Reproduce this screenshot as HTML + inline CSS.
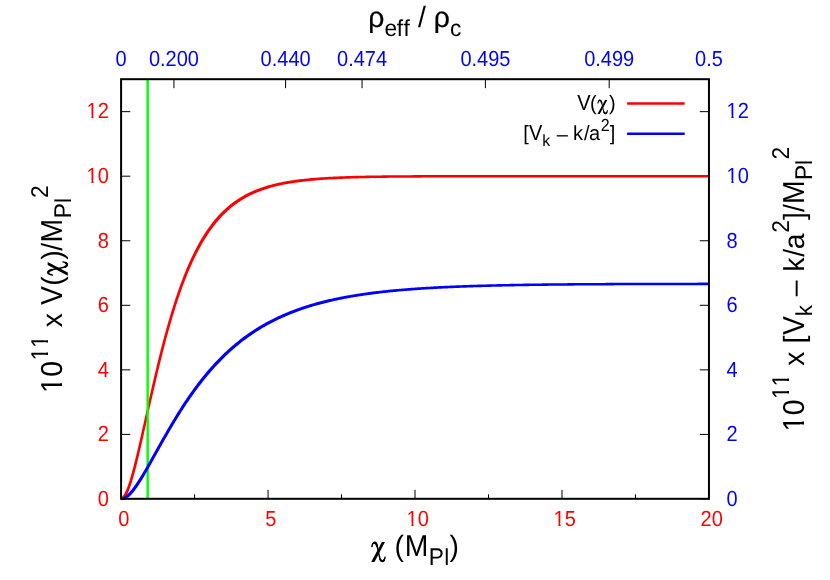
<!DOCTYPE html>
<html><head><meta charset="utf-8"><title>plot</title>
<style>html,body{margin:0;padding:0;background:#fff;overflow:hidden}svg{display:block;will-change:transform}text{font-family:"Liberation Sans",sans-serif;font-kerning:none;white-space:pre;text-rendering:geometricPrecision}.rho{stroke:#000;stroke-width:.22}.cs{fill:none;stroke:#000;stroke-width:1.5;stroke-linecap:round}.cb{stroke-width:2.2}.tick{stroke:#000;stroke-width:1;fill:none}.frame{stroke:#000;stroke-width:2;fill:none}.curve{fill:none;stroke-width:2.5}</style></head>
<body>
<svg width="830" height="580" viewBox="0 0 830 580">
<defs>
<clipPath id="one20"><path d="M-5 -40H40V-2.69H7.00V6H4.83V-2.69H-5Z"/></clipPath>
<clipPath id="one22"><path d="M-5 -40H40V-2.89H7.90V6H5.50V-2.89H-5Z"/></clipPath>
<clipPath id="one28"><path d="M-5 -40H40V-3.32H9.83V6H6.92V-3.32H-5Z"/></clipPath>
<clipPath id="c"><rect x="120.10" y="79.20" width="589.85" height="421.20"/></clipPath>
<g id="chi"><path d="M10.9 .45H13.95L3.5 20.25H.2Z"/><path class="cs" d="M.9 4.9C1.3 2.6 2.2 .9 3.6 .9C5.1 .9 5.9 3 6.5 5.9C7.1 8.9 7.6 11.4 8.3 14.4C9 17.4 9.8 19.7 11.3 19.7C12.7 19.7 13.6 18 14.1 15.5"/><path class="cs cb" d="M2.9 1.2C3.1 1.05 3.35 1 3.6 1C4.9 1 5.6 2.5 6.1 4.4M9.2 17.7C9.8 19 10.4 19.55 11.3 19.55C12 19.55 12.5 19.2 13 18.4"/></g>
</defs>
<rect width="830" height="580" fill="#fff"/>
<path class="tick" d="M121.10 498.80 v-9 M268.06 498.80 v-9 M415.02 498.80 v-9 M561.99 498.80 v-9 M708.95 498.80 v-9 M194.58 498.80 v-4.5 M341.54 498.80 v-4.5 M488.51 498.80 v-4.5 M635.47 498.80 v-4.5 M121.10 79.20 v9 M173.95 79.20 v9 M285.60 79.20 v9 M362.05 79.20 v9 M485.40 79.20 v9 M609.20 79.20 v9 M708.95 79.20 v9 M121.10 498.95 h9.2 M708.95 498.95 h-9.2 M121.10 434.40 h9.2 M708.95 434.40 h-9.2 M121.10 369.85 h9.2 M708.95 369.85 h-9.2 M121.10 305.30 h9.2 M708.95 305.30 h-9.2 M121.10 240.75 h9.2 M708.95 240.75 h-9.2 M121.10 176.20 h9.2 M708.95 176.20 h-9.2 M121.10 111.65 h9.2 M708.95 111.65 h-9.2"/>
<g clip-path="url(#c)" class="curve">
<path d="M120.76 497.53 L121.43 497.32 L122.00 496.86 L122.80 496.00 L123.72 494.73 L124.69 493.06 L125.67 491.05 L126.65 488.73 L127.63 486.13 L128.62 483.29 L129.60 480.23 L130.58 476.97 L131.57 473.54 L132.55 469.95 L133.53 466.22 L134.51 462.37 L135.49 458.41 L136.47 454.36 L137.45 450.23 L138.43 446.04 L139.41 441.79 L140.39 437.49 L141.37 433.16 L142.35 428.80 L143.33 424.42 L144.31 420.03 L145.29 415.64 L146.27 411.25 L147.25 406.87 L148.23 402.51 L149.21 398.16 L150.19 393.84 L151.17 389.54 L152.15 385.28 L153.13 381.06 L154.11 376.87 L155.09 372.73 L156.07 368.63 L157.05 364.57 L158.03 360.57 L159.00 356.62 L159.98 352.71 L160.96 348.87 L161.94 345.07 L162.92 341.34 L163.90 337.66 L164.88 334.03 L165.86 330.47 L166.84 326.97 L167.81 323.52 L168.79 320.13 L169.77 316.81 L170.75 313.54 L171.73 310.33 L172.71 307.18 L173.69 304.09 L174.67 301.06 L175.64 298.09 L176.62 295.17 L177.60 292.32 L178.58 289.52 L179.56 286.77 L180.54 284.09 L181.52 281.45 L182.49 278.88 L183.47 276.35 L184.45 273.88 L185.43 271.47 L186.41 269.10 L187.39 266.79 L188.37 264.53 L189.35 262.31 L190.33 260.15 L191.31 258.03 L192.29 255.96 L193.27 253.94 L194.25 251.96 L195.23 250.03 L196.21 248.14 L197.19 246.29 L198.17 244.49 L199.15 242.73 L200.14 241.01 L201.12 239.33 L202.10 237.69 L203.09 236.09 L204.07 234.52 L205.05 233.00 L206.04 231.51 L207.02 230.05 L208.01 228.63 L209.00 227.24 L209.98 225.89 L210.97 224.57 L211.96 223.28 L212.95 222.02 L213.94 220.80 L214.93 219.60 L215.92 218.44 L216.91 217.30 L217.90 216.19 L218.89 215.11 L219.89 214.05 L220.88 213.03 L221.87 212.02 L222.87 211.05 L223.86 210.09 L224.86 209.17 L225.85 208.26 L226.85 207.38 L227.84 206.52 L228.84 205.68 L229.83 204.87 L230.83 204.07 L231.83 203.30 L232.82 202.54 L233.82 201.80 L234.82 201.09 L235.81 200.39 L236.81 199.71 L237.81 199.05 L238.80 198.40 L239.80 197.77 L240.79 197.16 L241.79 196.57 L242.79 195.99 L243.78 195.42 L244.78 194.87 L245.78 194.34 L246.77 193.82 L247.77 193.31 L248.76 192.81 L249.76 192.33 L250.75 191.86 L251.75 191.41 L252.74 190.97 L253.74 190.53 L254.73 190.11 L255.73 189.70 L256.72 189.31 L257.72 188.92 L258.71 188.54 L259.70 188.17 L260.70 187.82 L261.69 187.47 L262.68 187.13 L263.67 186.80 L264.66 186.48 L265.66 186.17 L266.65 185.87 L267.64 185.57 L268.63 185.28 L269.62 185.00 L270.61 184.73 L271.60 184.47 L272.59 184.21 L273.58 183.96 L274.57 183.71 L275.56 183.48 L276.55 183.24 L277.54 183.02 L278.53 182.80 L279.51 182.59 L280.50 182.38 L281.49 182.18 L282.48 181.98 L283.47 181.79 L284.45 181.61 L285.44 181.43 L286.43 181.25 L287.41 181.08 L288.40 180.91 L289.39 180.75 L290.37 180.59 L291.36 180.44 L292.34 180.29 L293.33 180.15 L294.32 180.01 L295.30 179.87 L296.29 179.73 L297.27 179.60 L298.26 179.48 L299.24 179.35 L300.22 179.23 L301.21 179.12 L302.19 179.00 L303.18 178.89 L304.16 178.79 L305.15 178.68 L306.13 178.58 L307.11 178.48 L308.10 178.39 L309.08 178.29 L310.06 178.20 L311.05 178.11 L312.03 178.03 L313.01 177.94 L314.00 177.86 L314.98 177.78 L315.96 177.70 L316.95 177.63 L317.93 177.56 L318.91 177.49 L319.89 177.42 L320.88 177.35 L321.86 177.28 L322.84 177.22 L323.82 177.16 L324.80 177.10 L325.79 177.04 L326.77 176.98 L327.75 176.93 L328.73 176.87 L329.71 176.82 L330.70 176.77 L331.68 176.72 L332.66 176.67 L333.64 176.62 L334.62 176.58 L335.60 176.53 L336.59 176.49 L337.57 176.45 L338.55 176.41 L339.53 176.37 L340.51 176.33 L341.49 176.29 L342.47 176.25 L343.45 176.22 L344.44 176.18 L345.42 176.15 L346.40 176.12 L347.38 176.08 L348.36 176.05 L349.34 176.02 L350.32 175.99 L351.30 175.96 L352.28 175.94 L353.26 175.91 L354.24 175.88 L355.23 175.86 L356.21 175.83 L357.19 175.81 L358.17 175.78 L359.15 175.76 L360.13 175.74 L361.11 175.72 L362.09 175.70 L363.07 175.68 L364.05 175.66 L365.03 175.64 L366.01 175.62 L366.99 175.60 L367.97 175.58 L368.95 175.56 L369.93 175.55 L370.91 175.53 L371.89 175.51 L372.87 175.50 L373.85 175.48 L374.84 175.47 L375.82 175.45 L376.80 175.44 L377.78 175.43 L378.76 175.41 L379.74 175.40 L380.72 175.39 L381.70 175.38 L382.68 175.36 L383.66 175.35 L384.64 175.34 L385.62 175.33 L386.60 175.32 L387.58 175.31 L388.56 175.30 L389.54 175.29 L390.52 175.28 L391.50 175.27 L392.48 175.26 L393.46 175.25 L394.44 175.24 L395.42 175.24 L396.40 175.23 L397.38 175.22 L398.36 175.21 L399.34 175.21 L400.32 175.20 L401.30 175.19 L402.28 175.18 L403.26 175.18 L404.24 175.17 L405.22 175.17 L406.20 175.16 L407.18 175.15 L408.16 175.15 L409.14 175.14 L410.12 175.14 L411.10 175.13 L412.08 175.13 L413.06 175.12 L414.04 175.12 L415.02 175.11 L416.00 175.11 L416.98 175.10 L417.96 175.10 L418.94 175.09 L419.92 175.09 L420.90 175.09 L421.88 175.08 L422.86 175.08 L423.84 175.07 L424.82 175.07 L425.80 175.07 L426.78 175.06 L427.76 175.06 L428.74 175.06 L429.72 175.06 L430.70 175.05 L431.68 175.05 L432.66 175.05 L433.64 175.04 L434.62 175.04 L435.60 175.04 L436.58 175.04 L437.56 175.03 L438.54 175.03 L439.52 175.03 L440.50 175.03 L441.48 175.02 L442.45 175.02 L443.43 175.02 L444.41 175.02 L445.39 175.02 L446.37 175.01 L447.35 175.01 L448.33 175.01 L449.31 175.01 L450.29 175.01 L451.27 175.01 L452.25 175.00 L453.23 175.00 L454.21 175.00 L455.19 175.00 L456.17 175.00 L457.15 175.00 L458.13 174.99 L459.11 174.99 L460.09 174.99 L461.07 174.99 L462.05 174.99 L463.03 174.99 L464.01 174.99 L464.99 174.99 L465.97 174.99 L466.95 174.98 L467.93 174.98 L468.91 174.98 L469.89 174.98 L470.87 174.98 L471.85 174.98 L472.83 174.98 L473.81 174.98 L474.79 174.98 L475.77 174.98 L476.75 174.98 L477.73 174.97 L478.71 174.97 L479.69 174.97 L480.67 174.97 L481.65 174.97 L482.63 174.97 L483.61 174.97 L484.59 174.97 L485.57 174.97 L486.55 174.97 L487.53 174.97 L488.51 174.97 L489.49 174.97 L490.46 174.97 L491.44 174.97 L492.42 174.97 L493.40 174.96 L494.38 174.96 L495.36 174.96 L496.34 174.96 L497.32 174.96 L498.30 174.96 L499.28 174.96 L500.26 174.96 L501.24 174.96 L502.22 174.96 L503.20 174.96 L504.18 174.96 L505.16 174.96 L506.14 174.96 L507.12 174.96 L508.10 174.96 L509.08 174.96 L510.06 174.96 L511.04 174.96 L512.02 174.96 L513.00 174.96 L513.98 174.96 L514.96 174.96 L515.94 174.96 L516.92 174.96 L517.90 174.96 L518.88 174.96 L519.86 174.96 L520.84 174.96 L521.82 174.96 L522.80 174.96 L523.78 174.96 L524.76 174.96 L525.74 174.96 L526.72 174.95 L527.70 174.95 L528.68 174.95 L529.66 174.95 L530.64 174.95 L531.61 174.95 L532.59 174.95 L533.57 174.95 L534.55 174.95 L535.53 174.95 L536.51 174.95 L537.49 174.95 L538.47 174.95 L539.45 174.95 L540.43 174.95 L541.41 174.95 L542.39 174.95 L543.37 174.95 L544.35 174.95 L545.33 174.95 L546.31 174.95 L547.29 174.95 L548.27 174.95 L549.25 174.95 L550.23 174.95 L551.21 174.95 L552.19 174.95 L553.17 174.95 L554.15 174.95 L555.13 174.95 L556.11 174.95 L557.09 174.95 L558.07 174.95 L559.05 174.95 L560.03 174.95 L561.01 174.95 L561.99 174.95 L562.97 174.95 L563.95 174.95 L564.93 174.95 L565.91 174.95 L566.89 174.95 L567.87 174.95 L568.85 174.95 L569.83 174.95 L570.81 174.95 L571.78 174.95 L572.76 174.95 L573.74 174.95 L574.72 174.95 L575.70 174.95 L576.68 174.95 L577.66 174.95 L578.64 174.95 L579.62 174.95 L580.60 174.95 L581.58 174.95 L582.56 174.95 L583.54 174.95 L584.52 174.95 L585.50 174.95 L586.48 174.95 L587.46 174.95 L588.44 174.95 L589.42 174.95 L590.40 174.95 L591.38 174.95 L592.36 174.95 L593.34 174.95 L594.32 174.95 L595.30 174.95 L596.28 174.95 L597.26 174.95 L598.24 174.95 L599.22 174.95 L600.20 174.95 L601.18 174.95 L602.16 174.95 L603.14 174.95 L604.12 174.95 L605.10 174.95 L606.08 174.95 L607.06 174.95 L608.04 174.95 L609.02 174.95 L610.00 174.95 L610.97 174.95 L611.95 174.95 L612.93 174.95 L613.91 174.95 L614.89 174.95 L615.87 174.95 L616.85 174.95 L617.83 174.95 L618.81 174.95 L619.79 174.95 L620.77 174.95 L621.75 174.95 L622.73 174.95 L623.71 174.95 L624.69 174.95 L625.67 174.95 L626.65 174.95 L627.63 174.95 L628.61 174.95 L629.59 174.95 L630.57 174.95 L631.55 174.95 L632.53 174.95 L633.51 174.95 L634.49 174.95 L635.47 174.95 L636.45 174.95 L637.43 174.95 L638.41 174.95 L639.39 174.95 L640.37 174.95 L641.35 174.95 L642.33 174.95 L643.31 174.95 L644.29 174.95 L645.27 174.95 L646.25 174.95 L647.23 174.95 L648.21 174.95 L649.19 174.95 L650.16 174.95 L651.14 174.95 L652.12 174.95 L653.10 174.95 L654.08 174.95 L655.06 174.95 L656.04 174.95 L657.02 174.95 L658.00 174.95 L658.98 174.95 L659.96 174.95 L660.94 174.95 L661.92 174.95 L662.90 174.95 L663.88 174.95 L664.86 174.95 L665.84 174.95 L666.82 174.95 L667.80 174.95 L668.78 174.95 L669.76 174.95 L670.74 174.95 L671.72 174.95 L672.70 174.95 L673.68 174.95 L674.66 174.95 L675.64 174.95 L676.62 174.95 L677.60 174.95 L678.58 174.95 L679.56 174.95 L680.54 174.95 L681.52 174.95 L682.50 174.95 L683.48 174.95 L684.46 174.95 L685.44 174.95 L686.42 174.95 L687.40 174.95 L688.38 174.95 L689.35 174.95 L690.33 174.95 L691.31 174.95 L692.29 174.95 L693.27 174.95 L694.25 174.95 L695.23 174.95 L696.21 174.95 L697.19 174.95 L698.17 174.95 L699.15 174.95 L700.13 174.95 L701.11 174.95 L702.09 174.95 L703.07 174.95 L704.05 174.95 L705.03 174.95 L706.01 174.95 L706.99 174.95 L707.97 174.95 L708.95 174.95 L708.95 177.45 L707.97 177.45 L706.99 177.45 L706.01 177.45 L705.03 177.45 L704.05 177.45 L703.07 177.45 L702.09 177.45 L701.11 177.45 L700.13 177.45 L699.15 177.45 L698.17 177.45 L697.19 177.45 L696.21 177.45 L695.23 177.45 L694.25 177.45 L693.27 177.45 L692.29 177.45 L691.31 177.45 L690.33 177.45 L689.36 177.45 L688.38 177.45 L687.40 177.45 L686.42 177.45 L685.44 177.45 L684.46 177.45 L683.48 177.45 L682.50 177.45 L681.52 177.45 L680.54 177.45 L679.56 177.45 L678.58 177.45 L677.60 177.45 L676.62 177.45 L675.64 177.45 L674.66 177.45 L673.68 177.45 L672.70 177.45 L671.72 177.45 L670.74 177.45 L669.76 177.45 L668.78 177.45 L667.80 177.45 L666.82 177.45 L665.84 177.45 L664.86 177.45 L663.88 177.45 L662.90 177.45 L661.92 177.45 L660.94 177.45 L659.96 177.45 L658.98 177.45 L658.00 177.45 L657.02 177.45 L656.04 177.45 L655.06 177.45 L654.08 177.45 L653.10 177.45 L652.12 177.45 L651.14 177.45 L650.17 177.45 L649.19 177.45 L648.21 177.45 L647.23 177.45 L646.25 177.45 L645.27 177.45 L644.29 177.45 L643.31 177.45 L642.33 177.45 L641.35 177.45 L640.37 177.45 L639.39 177.45 L638.41 177.45 L637.43 177.45 L636.45 177.45 L635.47 177.45 L634.49 177.45 L633.51 177.45 L632.53 177.45 L631.55 177.45 L630.57 177.45 L629.59 177.45 L628.61 177.45 L627.63 177.45 L626.65 177.45 L625.67 177.45 L624.69 177.45 L623.71 177.45 L622.73 177.45 L621.75 177.45 L620.77 177.45 L619.79 177.45 L618.81 177.45 L617.83 177.45 L616.85 177.45 L615.87 177.45 L614.89 177.45 L613.91 177.45 L612.93 177.45 L611.95 177.45 L610.98 177.45 L610.00 177.45 L609.02 177.45 L608.04 177.45 L607.06 177.45 L606.08 177.45 L605.10 177.45 L604.12 177.45 L603.14 177.45 L602.16 177.45 L601.18 177.45 L600.20 177.45 L599.22 177.45 L598.24 177.45 L597.26 177.45 L596.28 177.45 L595.30 177.45 L594.32 177.45 L593.34 177.45 L592.36 177.45 L591.38 177.45 L590.40 177.45 L589.42 177.45 L588.44 177.45 L587.46 177.45 L586.48 177.45 L585.50 177.45 L584.52 177.45 L583.54 177.45 L582.56 177.45 L581.58 177.45 L580.60 177.45 L579.62 177.45 L578.64 177.45 L577.66 177.45 L576.68 177.45 L575.70 177.45 L574.72 177.45 L573.74 177.45 L572.76 177.45 L571.79 177.45 L570.81 177.45 L569.83 177.45 L568.85 177.45 L567.87 177.45 L566.89 177.45 L565.91 177.45 L564.93 177.45 L563.95 177.45 L562.97 177.45 L561.99 177.45 L561.01 177.46 L560.03 177.46 L559.05 177.46 L558.07 177.46 L557.09 177.46 L556.11 177.46 L555.13 177.46 L554.15 177.46 L553.17 177.46 L552.19 177.46 L551.21 177.46 L550.23 177.46 L549.25 177.46 L548.27 177.46 L547.29 177.46 L546.31 177.46 L545.33 177.46 L544.35 177.46 L543.37 177.46 L542.39 177.46 L541.41 177.46 L540.43 177.46 L539.45 177.46 L538.47 177.46 L537.49 177.46 L536.51 177.46 L535.53 177.46 L534.55 177.46 L533.57 177.46 L532.60 177.46 L531.62 177.46 L530.64 177.46 L529.66 177.46 L528.68 177.46 L527.70 177.46 L526.72 177.46 L525.74 177.46 L524.76 177.46 L523.78 177.46 L522.80 177.46 L521.82 177.46 L520.84 177.46 L519.86 177.46 L518.88 177.46 L517.90 177.46 L516.92 177.46 L515.94 177.47 L514.96 177.47 L513.98 177.47 L513.00 177.47 L512.02 177.47 L511.04 177.47 L510.06 177.47 L509.08 177.47 L508.10 177.47 L507.12 177.47 L506.14 177.47 L505.16 177.47 L504.18 177.47 L503.20 177.47 L502.22 177.47 L501.24 177.47 L500.26 177.47 L499.28 177.47 L498.30 177.47 L497.32 177.47 L496.34 177.47 L495.37 177.48 L494.39 177.48 L493.41 177.48 L492.43 177.48 L491.45 177.48 L490.47 177.48 L489.49 177.48 L488.51 177.48 L487.53 177.48 L486.55 177.48 L485.57 177.48 L484.59 177.48 L483.61 177.48 L482.63 177.49 L481.65 177.49 L480.67 177.49 L479.69 177.49 L478.71 177.49 L477.73 177.49 L476.75 177.49 L475.77 177.49 L474.79 177.49 L473.81 177.49 L472.83 177.50 L471.85 177.50 L470.87 177.50 L469.89 177.50 L468.91 177.50 L467.93 177.50 L466.95 177.50 L465.97 177.50 L464.99 177.51 L464.01 177.51 L463.03 177.51 L462.05 177.51 L461.08 177.51 L460.10 177.51 L459.12 177.51 L458.14 177.52 L457.16 177.52 L456.18 177.52 L455.20 177.52 L454.22 177.52 L453.24 177.52 L452.26 177.53 L451.28 177.53 L450.30 177.53 L449.32 177.53 L448.34 177.54 L447.36 177.54 L446.38 177.54 L445.40 177.54 L444.42 177.54 L443.44 177.55 L442.46 177.55 L441.48 177.55 L440.50 177.55 L439.52 177.56 L438.54 177.56 L437.56 177.56 L436.58 177.57 L435.60 177.57 L434.62 177.57 L433.64 177.58 L432.66 177.58 L431.68 177.58 L430.71 177.59 L429.73 177.59 L428.75 177.59 L427.77 177.60 L426.79 177.60 L425.81 177.60 L424.83 177.61 L423.85 177.61 L422.87 177.62 L421.89 177.62 L420.91 177.63 L419.93 177.63 L418.95 177.63 L417.97 177.64 L416.99 177.64 L416.01 177.65 L415.03 177.66 L414.05 177.66 L413.07 177.67 L412.09 177.67 L411.11 177.68 L410.13 177.68 L409.15 177.69 L408.17 177.70 L407.20 177.70 L406.22 177.71 L405.24 177.72 L404.26 177.72 L403.28 177.73 L402.30 177.74 L401.32 177.75 L400.34 177.75 L399.36 177.76 L398.38 177.77 L397.40 177.78 L396.42 177.79 L395.44 177.80 L394.46 177.81 L393.48 177.82 L392.50 177.82 L391.52 177.83 L390.54 177.85 L389.56 177.86 L388.59 177.87 L387.61 177.88 L386.63 177.89 L385.65 177.90 L384.67 177.91 L383.69 177.93 L382.71 177.94 L381.73 177.95 L380.75 177.96 L379.77 177.98 L378.79 177.99 L377.81 178.01 L376.83 178.02 L375.85 178.04 L374.88 178.05 L373.90 178.07 L372.92 178.09 L371.94 178.10 L370.96 178.12 L369.98 178.14 L369.00 178.16 L368.02 178.17 L367.04 178.19 L366.06 178.21 L365.08 178.23 L364.11 178.26 L363.13 178.28 L362.15 178.30 L361.17 178.32 L360.19 178.35 L359.21 178.37 L358.23 178.40 L357.25 178.42 L356.27 178.45 L355.30 178.47 L354.32 178.50 L353.34 178.53 L352.36 178.56 L351.38 178.59 L350.40 178.62 L349.42 178.65 L348.44 178.68 L347.47 178.72 L346.49 178.75 L345.51 178.79 L344.53 178.82 L343.55 178.86 L342.57 178.90 L341.60 178.93 L340.62 178.98 L339.64 179.02 L338.66 179.06 L337.68 179.10 L336.70 179.15 L335.73 179.19 L334.75 179.24 L333.77 179.29 L332.79 179.34 L331.81 179.39 L330.84 179.44 L329.86 179.49 L328.88 179.55 L327.90 179.61 L326.93 179.66 L325.95 179.72 L324.97 179.79 L323.99 179.85 L323.02 179.91 L322.04 179.98 L321.06 180.05 L320.09 180.12 L319.11 180.19 L318.13 180.27 L317.15 180.34 L316.18 180.42 L315.20 180.50 L314.22 180.58 L313.25 180.67 L312.27 180.76 L311.30 180.84 L310.32 180.94 L309.34 181.03 L308.37 181.13 L307.39 181.23 L306.42 181.33 L305.44 181.43 L304.46 181.54 L303.49 181.65 L302.51 181.77 L301.54 181.88 L300.56 182.00 L299.59 182.13 L298.61 182.25 L297.64 182.38 L296.66 182.52 L295.69 182.65 L294.72 182.79 L293.74 182.94 L292.77 183.09 L291.79 183.24 L290.82 183.40 L289.85 183.56 L288.87 183.72 L287.90 183.89 L286.93 184.07 L285.96 184.24 L284.98 184.43 L284.01 184.62 L283.04 184.81 L282.07 185.01 L281.10 185.21 L280.12 185.42 L279.15 185.64 L278.18 185.86 L277.21 186.09 L276.24 186.32 L275.27 186.56 L274.30 186.80 L273.33 187.06 L272.36 187.31 L271.39 187.58 L270.42 187.85 L269.45 188.13 L268.49 188.42 L267.52 188.71 L266.55 189.02 L265.58 189.33 L264.61 189.65 L263.65 189.98 L262.68 190.31 L261.71 190.66 L260.75 191.01 L259.78 191.38 L258.81 191.75 L257.85 192.13 L256.88 192.53 L255.92 192.93 L254.95 193.34 L253.99 193.77 L253.02 194.21 L252.06 194.66 L251.09 195.12 L250.13 195.59 L249.17 196.07 L248.20 196.57 L247.24 197.08 L246.28 197.60 L245.31 198.14 L244.35 198.69 L243.39 199.26 L242.42 199.84 L241.46 200.44 L240.50 201.05 L239.53 201.68 L238.57 202.32 L237.61 202.98 L236.65 203.66 L235.68 204.36 L234.72 205.07 L233.76 205.80 L232.79 206.56 L231.83 207.33 L230.87 208.12 L229.90 208.93 L228.94 209.77 L227.97 210.62 L227.01 211.50 L226.05 212.40 L225.08 213.33 L224.12 214.28 L223.15 215.25 L222.18 216.25 L221.22 217.27 L220.25 218.32 L219.28 219.40 L218.31 220.50 L217.34 221.64 L216.38 222.80 L215.40 223.99 L214.43 225.21 L213.46 226.47 L212.49 227.75 L211.52 229.07 L210.54 230.42 L209.57 231.81 L208.60 233.23 L207.62 234.68 L206.65 236.18 L205.67 237.71 L204.70 239.27 L203.72 240.88 L202.74 242.53 L201.76 244.21 L200.79 245.94 L199.81 247.71 L198.83 249.53 L197.85 251.38 L196.87 253.29 L195.89 255.23 L194.91 257.23 L193.94 259.27 L192.96 261.36 L191.98 263.49 L191.00 265.68 L190.02 267.92 L189.04 270.21 L188.05 272.55 L187.07 274.94 L186.09 277.39 L185.11 279.89 L184.13 282.44 L183.15 285.05 L182.17 287.72 L181.19 290.44 L180.21 293.22 L179.23 296.06 L178.25 298.96 L177.27 301.91 L176.29 304.93 L175.31 308.00 L174.32 311.13 L173.34 314.32 L172.36 317.58 L171.38 320.89 L170.40 324.26 L169.42 327.70 L168.44 331.19 L167.46 334.74 L166.48 338.35 L165.50 342.02 L164.52 345.74 L163.54 349.53 L162.56 353.37 L161.58 357.26 L160.60 361.20 L159.61 365.20 L158.63 369.24 L157.65 373.34 L156.67 377.48 L155.69 381.66 L154.71 385.88 L153.73 390.13 L152.75 394.42 L151.77 398.74 L150.79 403.08 L149.81 407.44 L148.83 411.82 L147.85 416.21 L146.87 420.60 L145.89 424.99 L144.91 429.37 L143.93 433.73 L142.96 438.07 L141.98 442.37 L141.00 446.63 L140.02 450.84 L139.04 454.98 L138.06 459.04 L137.08 463.01 L136.10 466.88 L135.13 470.63 L134.15 474.25 L133.17 477.72 L132.19 481.03 L131.22 484.14 L130.24 487.06 L129.27 489.75 L128.29 492.20 L127.31 494.39 L126.32 496.30 L125.28 497.93 L124.12 499.23 L122.73 500.11 L121.44 500.37Z" fill="#f00" stroke="none"/>
<path d="M147.65 79.20 V498.80" stroke="#0f0" stroke-width="2.4"/>
<path d="M120.99 497.59 L121.86 497.47 L122.63 497.22 L123.43 496.88 L124.26 496.44 L125.12 495.89 L126.01 495.24 L126.92 494.49 L127.84 493.64 L128.77 492.71 L129.72 491.69 L130.67 490.61 L131.63 489.45 L132.59 488.22 L133.56 486.94 L134.53 485.61 L135.50 484.22 L136.47 482.79 L137.45 481.32 L138.43 479.81 L139.40 478.27 L140.38 476.70 L141.36 475.09 L142.33 473.47 L143.31 471.82 L144.29 470.15 L145.27 468.47 L146.25 466.77 L147.23 465.06 L148.21 463.33 L149.19 461.60 L150.17 459.86 L151.15 458.11 L152.13 456.36 L153.10 454.60 L154.08 452.84 L155.06 451.09 L156.04 449.33 L157.02 447.57 L158.00 445.82 L158.98 444.07 L159.96 442.32 L160.94 440.58 L161.92 438.84 L162.90 437.11 L163.88 435.39 L164.86 433.67 L165.84 431.96 L166.83 430.27 L167.81 428.58 L168.79 426.90 L169.77 425.23 L170.75 423.57 L171.73 421.92 L172.71 420.29 L173.69 418.66 L174.67 417.05 L175.65 415.45 L176.63 413.86 L177.61 412.28 L178.59 410.72 L179.58 409.17 L180.56 407.63 L181.54 406.11 L182.52 404.60 L183.50 403.10 L184.48 401.62 L185.46 400.15 L186.45 398.70 L187.43 397.26 L188.41 395.83 L189.39 394.42 L190.37 393.02 L191.36 391.63 L192.34 390.26 L193.32 388.90 L194.31 387.56 L195.29 386.23 L196.27 384.92 L197.25 383.61 L198.24 382.33 L199.22 381.05 L200.20 379.79 L201.19 378.55 L202.17 377.32 L203.16 376.10 L204.14 374.89 L205.12 373.70 L206.11 372.52 L207.09 371.36 L208.08 370.21 L209.06 369.07 L210.05 367.95 L211.03 366.84 L212.02 365.74 L213.00 364.65 L213.99 363.58 L214.98 362.52 L215.96 361.47 L216.95 360.44 L217.93 359.42 L218.92 358.41 L219.91 357.41 L220.89 356.42 L221.88 355.45 L222.87 354.49 L223.85 353.54 L224.84 352.60 L225.83 351.68 L226.82 350.76 L227.80 349.86 L228.79 348.96 L229.78 348.08 L230.76 347.21 L231.75 346.35 L232.74 345.50 L233.73 344.67 L234.72 343.84 L235.70 343.02 L236.69 342.21 L237.68 341.42 L238.67 340.63 L239.65 339.86 L240.64 339.09 L241.63 338.33 L242.62 337.59 L243.61 336.85 L244.59 336.12 L245.58 335.40 L246.57 334.69 L247.56 333.99 L248.55 333.30 L249.53 332.62 L250.52 331.95 L251.51 331.28 L252.50 330.63 L253.49 329.98 L254.48 329.34 L255.46 328.71 L256.45 328.09 L257.44 327.48 L258.43 326.87 L259.42 326.27 L260.40 325.68 L261.39 325.10 L262.38 324.53 L263.37 323.96 L264.36 323.40 L265.35 322.85 L266.33 322.30 L267.32 321.77 L268.31 321.24 L269.30 320.71 L270.29 320.20 L271.27 319.69 L272.26 319.18 L273.25 318.69 L274.24 318.20 L275.22 317.72 L276.21 317.24 L277.20 316.77 L278.19 316.31 L279.17 315.85 L280.16 315.40 L281.15 314.95 L282.14 314.51 L283.12 314.08 L284.11 313.65 L285.10 313.23 L286.09 312.81 L287.07 312.40 L288.06 312.00 L289.05 311.60 L290.03 311.20 L291.02 310.81 L292.01 310.43 L292.99 310.05 L293.98 309.68 L294.97 309.31 L295.95 308.94 L296.94 308.59 L297.93 308.23 L298.91 307.88 L299.90 307.54 L300.88 307.20 L301.87 306.86 L302.86 306.53 L303.84 306.21 L304.83 305.89 L305.81 305.57 L306.80 305.26 L307.79 304.95 L308.77 304.64 L309.76 304.34 L310.74 304.05 L311.73 303.75 L312.71 303.46 L313.70 303.18 L314.68 302.90 L315.67 302.62 L316.66 302.35 L317.64 302.08 L318.63 301.81 L319.61 301.55 L320.60 301.29 L321.58 301.04 L322.56 300.79 L323.55 300.54 L324.53 300.29 L325.52 300.05 L326.50 299.81 L327.49 299.58 L328.47 299.35 L329.46 299.12 L330.44 298.89 L331.43 298.67 L332.41 298.45 L333.39 298.23 L334.38 298.02 L335.36 297.81 L336.35 297.60 L337.33 297.40 L338.31 297.19 L339.30 296.99 L340.28 296.80 L341.26 296.60 L342.25 296.41 L343.23 296.22 L344.22 296.04 L345.20 295.85 L346.18 295.67 L347.17 295.49 L348.15 295.32 L349.13 295.14 L350.12 294.97 L351.10 294.80 L352.08 294.63 L353.07 294.47 L354.05 294.31 L355.03 294.15 L356.01 293.99 L357.00 293.83 L357.98 293.68 L358.96 293.53 L359.95 293.38 L360.93 293.23 L361.91 293.08 L362.89 292.94 L363.88 292.80 L364.86 292.66 L365.84 292.52 L366.82 292.39 L367.81 292.25 L368.79 292.12 L369.77 291.99 L370.75 291.86 L371.74 291.73 L372.72 291.61 L373.70 291.48 L374.68 291.36 L375.66 291.24 L376.65 291.12 L377.63 291.01 L378.61 290.89 L379.59 290.78 L380.58 290.66 L381.56 290.55 L382.54 290.44 L383.52 290.34 L384.50 290.23 L385.49 290.13 L386.47 290.02 L387.45 289.92 L388.43 289.82 L389.41 289.72 L390.39 289.62 L391.38 289.53 L392.36 289.43 L393.34 289.34 L394.32 289.24 L395.30 289.15 L396.28 289.06 L397.27 288.97 L398.25 288.89 L399.23 288.80 L400.21 288.71 L401.19 288.63 L402.17 288.55 L403.15 288.46 L404.14 288.38 L405.12 288.30 L406.10 288.22 L407.08 288.15 L408.06 288.07 L409.04 288.00 L410.02 287.92 L411.00 287.85 L411.99 287.77 L412.97 287.70 L413.95 287.63 L414.93 287.56 L415.91 287.49 L416.89 287.43 L417.87 287.36 L418.85 287.29 L419.83 287.23 L420.81 287.17 L421.80 287.10 L422.78 287.04 L423.76 286.98 L424.74 286.92 L425.72 286.86 L426.70 286.80 L427.68 286.74 L428.66 286.68 L429.64 286.63 L430.62 286.57 L431.60 286.52 L432.59 286.46 L433.57 286.41 L434.55 286.35 L435.53 286.30 L436.51 286.25 L437.49 286.20 L438.47 286.15 L439.45 286.10 L440.43 286.05 L441.41 286.00 L442.39 285.96 L443.37 285.91 L444.35 285.86 L445.34 285.82 L446.32 285.77 L447.30 285.73 L448.28 285.69 L449.26 285.64 L450.24 285.60 L451.22 285.56 L452.20 285.52 L453.18 285.48 L454.16 285.44 L455.14 285.40 L456.12 285.36 L457.10 285.32 L458.08 285.28 L459.06 285.24 L460.04 285.21 L461.02 285.17 L462.00 285.13 L462.98 285.10 L463.96 285.06 L464.95 285.03 L465.93 284.99 L466.91 284.96 L467.89 284.93 L468.87 284.89 L469.85 284.86 L470.83 284.83 L471.81 284.80 L472.79 284.77 L473.77 284.74 L474.75 284.71 L475.73 284.68 L476.71 284.65 L477.69 284.62 L478.67 284.59 L479.65 284.56 L480.63 284.53 L481.61 284.51 L482.59 284.48 L483.57 284.45 L484.55 284.43 L485.53 284.40 L486.51 284.38 L487.49 284.35 L488.47 284.33 L489.45 284.30 L490.43 284.28 L491.41 284.25 L492.39 284.23 L493.37 284.21 L494.35 284.18 L495.33 284.16 L496.31 284.14 L497.29 284.12 L498.27 284.10 L499.25 284.07 L500.23 284.05 L501.21 284.03 L502.20 284.01 L503.18 283.99 L504.16 283.97 L505.14 283.95 L506.12 283.93 L507.10 283.91 L508.08 283.89 L509.06 283.88 L510.04 283.86 L511.02 283.84 L512.00 283.82 L512.98 283.80 L513.96 283.79 L514.94 283.77 L515.92 283.75 L516.90 283.73 L517.88 283.72 L518.86 283.70 L519.84 283.69 L520.82 283.67 L521.80 283.65 L522.78 283.64 L523.76 283.62 L524.74 283.61 L525.72 283.59 L526.70 283.58 L527.68 283.57 L528.66 283.55 L529.64 283.54 L530.62 283.52 L531.60 283.51 L532.58 283.50 L533.56 283.48 L534.54 283.47 L535.52 283.46 L536.50 283.44 L537.48 283.43 L538.46 283.42 L539.44 283.41 L540.42 283.40 L541.40 283.38 L542.38 283.37 L543.36 283.36 L544.34 283.35 L545.32 283.34 L546.30 283.33 L547.28 283.32 L548.26 283.30 L549.24 283.29 L550.22 283.28 L551.20 283.27 L552.18 283.26 L553.16 283.25 L554.14 283.24 L555.12 283.23 L556.10 283.22 L557.08 283.21 L558.06 283.21 L559.04 283.20 L560.02 283.19 L561.00 283.18 L561.98 283.17 L562.96 283.16 L563.94 283.15 L564.92 283.14 L565.90 283.13 L566.88 283.13 L567.86 283.12 L568.83 283.11 L569.81 283.10 L570.79 283.09 L571.77 283.09 L572.75 283.08 L573.73 283.07 L574.71 283.06 L575.69 283.06 L576.67 283.05 L577.65 283.04 L578.63 283.04 L579.61 283.03 L580.59 283.02 L581.57 283.01 L582.55 283.01 L583.53 283.00 L584.51 283.00 L585.49 282.99 L586.47 282.98 L587.45 282.98 L588.43 282.97 L589.41 282.96 L590.39 282.96 L591.37 282.95 L592.35 282.95 L593.33 282.94 L594.31 282.94 L595.29 282.93 L596.27 282.92 L597.25 282.92 L598.23 282.91 L599.21 282.91 L600.19 282.90 L601.17 282.90 L602.15 282.89 L603.13 282.89 L604.11 282.88 L605.09 282.88 L606.07 282.87 L607.05 282.87 L608.03 282.86 L609.01 282.86 L609.99 282.85 L610.97 282.85 L611.95 282.85 L612.93 282.84 L613.91 282.84 L614.89 282.83 L615.87 282.83 L616.85 282.82 L617.83 282.82 L618.81 282.82 L619.79 282.81 L620.77 282.81 L621.75 282.81 L622.73 282.80 L623.71 282.80 L624.69 282.79 L625.67 282.79 L626.65 282.79 L627.63 282.78 L628.61 282.78 L629.59 282.78 L630.57 282.77 L631.55 282.77 L632.53 282.77 L633.50 282.76 L634.48 282.76 L635.46 282.76 L636.44 282.75 L637.42 282.75 L638.40 282.75 L639.38 282.74 L640.36 282.74 L641.34 282.74 L642.32 282.74 L643.30 282.73 L644.28 282.73 L645.26 282.73 L646.24 282.72 L647.22 282.72 L648.20 282.72 L649.18 282.72 L650.16 282.71 L651.14 282.71 L652.12 282.71 L653.10 282.71 L654.08 282.70 L655.06 282.70 L656.04 282.70 L657.02 282.70 L658.00 282.70 L658.98 282.69 L659.96 282.69 L660.94 282.69 L661.92 282.69 L662.90 282.68 L663.88 282.68 L664.86 282.68 L665.84 282.68 L666.82 282.68 L667.80 282.67 L668.78 282.67 L669.76 282.67 L670.74 282.67 L671.72 282.67 L672.70 282.66 L673.68 282.66 L674.66 282.66 L675.64 282.66 L676.62 282.66 L677.60 282.66 L678.58 282.65 L679.56 282.65 L680.53 282.65 L681.51 282.65 L682.49 282.65 L683.47 282.65 L684.45 282.64 L685.43 282.64 L686.41 282.64 L687.39 282.64 L688.37 282.64 L689.35 282.64 L690.33 282.63 L691.31 282.63 L692.29 282.63 L693.27 282.63 L694.25 282.63 L695.23 282.63 L696.21 282.63 L697.19 282.63 L698.17 282.62 L699.15 282.62 L700.13 282.62 L701.11 282.62 L702.09 282.62 L703.07 282.62 L704.05 282.62 L705.03 282.62 L706.01 282.61 L706.99 282.61 L707.97 282.61 L708.95 282.61 L708.95 285.13 L707.97 285.13 L706.99 285.13 L706.01 285.13 L705.03 285.13 L704.05 285.14 L703.07 285.14 L702.09 285.14 L701.11 285.14 L700.13 285.14 L699.15 285.14 L698.17 285.14 L697.19 285.15 L696.22 285.15 L695.24 285.15 L694.26 285.15 L693.28 285.15 L692.30 285.15 L691.32 285.15 L690.34 285.16 L689.36 285.16 L688.38 285.16 L687.40 285.16 L686.42 285.16 L685.44 285.16 L684.46 285.17 L683.48 285.17 L682.50 285.17 L681.52 285.17 L680.54 285.17 L679.56 285.18 L678.58 285.18 L677.60 285.18 L676.62 285.18 L675.64 285.18 L674.66 285.18 L673.68 285.19 L672.70 285.19 L671.72 285.19 L670.74 285.19 L669.76 285.20 L668.78 285.20 L667.80 285.20 L666.82 285.20 L665.84 285.20 L664.86 285.21 L663.88 285.21 L662.90 285.21 L661.92 285.21 L660.95 285.22 L659.97 285.22 L658.99 285.22 L658.01 285.22 L657.03 285.23 L656.05 285.23 L655.07 285.23 L654.09 285.23 L653.11 285.24 L652.13 285.24 L651.15 285.24 L650.17 285.24 L649.19 285.25 L648.21 285.25 L647.23 285.25 L646.25 285.26 L645.27 285.26 L644.29 285.26 L643.31 285.26 L642.33 285.27 L641.35 285.27 L640.37 285.27 L639.39 285.28 L638.41 285.28 L637.43 285.28 L636.45 285.29 L635.47 285.29 L634.49 285.29 L633.51 285.30 L632.53 285.30 L631.55 285.30 L630.57 285.31 L629.59 285.31 L628.62 285.32 L627.64 285.32 L626.66 285.32 L625.68 285.33 L624.70 285.33 L623.72 285.33 L622.74 285.34 L621.76 285.34 L620.78 285.35 L619.80 285.35 L618.82 285.36 L617.84 285.36 L616.86 285.36 L615.88 285.37 L614.90 285.37 L613.92 285.38 L612.94 285.38 L611.96 285.39 L610.98 285.39 L610.00 285.40 L609.02 285.40 L608.04 285.41 L607.06 285.41 L606.08 285.42 L605.10 285.42 L604.12 285.43 L603.14 285.43 L602.16 285.44 L601.18 285.44 L600.20 285.45 L599.23 285.45 L598.25 285.46 L597.27 285.46 L596.29 285.47 L595.31 285.48 L594.33 285.48 L593.35 285.49 L592.37 285.49 L591.39 285.50 L590.41 285.51 L589.43 285.51 L588.45 285.52 L587.47 285.53 L586.49 285.53 L585.51 285.54 L584.53 285.55 L583.55 285.55 L582.57 285.56 L581.59 285.57 L580.61 285.57 L579.63 285.58 L578.65 285.59 L577.67 285.60 L576.69 285.60 L575.71 285.61 L574.73 285.62 L573.75 285.63 L572.77 285.64 L571.80 285.64 L570.82 285.65 L569.84 285.66 L568.86 285.67 L567.88 285.68 L566.90 285.69 L565.92 285.69 L564.94 285.70 L563.96 285.71 L562.98 285.72 L562.00 285.73 L561.02 285.74 L560.04 285.75 L559.06 285.76 L558.08 285.77 L557.10 285.78 L556.12 285.79 L555.14 285.80 L554.16 285.81 L553.18 285.82 L552.20 285.83 L551.22 285.84 L550.24 285.85 L549.26 285.86 L548.29 285.87 L547.31 285.89 L546.33 285.90 L545.35 285.91 L544.37 285.92 L543.39 285.93 L542.41 285.94 L541.43 285.96 L540.45 285.97 L539.47 285.98 L538.49 285.99 L537.51 286.01 L536.53 286.02 L535.55 286.03 L534.57 286.05 L533.59 286.06 L532.61 286.08 L531.63 286.09 L530.65 286.10 L529.67 286.12 L528.69 286.13 L527.72 286.15 L526.74 286.16 L525.76 286.18 L524.78 286.19 L523.80 286.21 L522.82 286.22 L521.84 286.24 L520.86 286.26 L519.88 286.27 L518.90 286.29 L517.92 286.31 L516.94 286.32 L515.96 286.34 L514.98 286.36 L514.00 286.38 L513.02 286.40 L512.04 286.41 L511.06 286.43 L510.09 286.45 L509.11 286.47 L508.13 286.49 L507.15 286.51 L506.17 286.53 L505.19 286.55 L504.21 286.57 L503.23 286.59 L502.25 286.61 L501.27 286.63 L500.29 286.66 L499.31 286.68 L498.33 286.70 L497.35 286.72 L496.37 286.75 L495.39 286.77 L494.42 286.79 L493.44 286.82 L492.46 286.84 L491.48 286.86 L490.50 286.89 L489.52 286.91 L488.54 286.94 L487.56 286.97 L486.58 286.99 L485.60 287.02 L484.62 287.04 L483.64 287.07 L482.66 287.10 L481.69 287.13 L480.71 287.16 L479.73 287.18 L478.75 287.21 L477.77 287.24 L476.79 287.27 L475.81 287.30 L474.83 287.33 L473.85 287.37 L472.87 287.40 L471.89 287.43 L470.91 287.46 L469.93 287.49 L468.96 287.53 L467.98 287.56 L467.00 287.60 L466.02 287.63 L465.04 287.67 L464.06 287.70 L463.08 287.74 L462.10 287.77 L461.12 287.81 L460.14 287.85 L459.16 287.89 L458.19 287.93 L457.21 287.97 L456.23 288.00 L455.25 288.05 L454.27 288.09 L453.29 288.13 L452.31 288.17 L451.33 288.21 L450.35 288.25 L449.38 288.30 L448.40 288.34 L447.42 288.39 L446.44 288.43 L445.46 288.48 L444.48 288.53 L443.50 288.57 L442.52 288.62 L441.54 288.67 L440.57 288.72 L439.59 288.77 L438.61 288.82 L437.63 288.87 L436.65 288.92 L435.67 288.98 L434.69 289.03 L433.71 289.08 L432.74 289.14 L431.76 289.19 L430.78 289.25 L429.80 289.31 L428.82 289.37 L427.84 289.43 L426.86 289.49 L425.88 289.55 L424.91 289.61 L423.93 289.67 L422.95 289.73 L421.97 289.80 L420.99 289.86 L420.01 289.93 L419.04 289.99 L418.06 290.06 L417.08 290.13 L416.10 290.20 L415.12 290.27 L414.14 290.34 L413.16 290.41 L412.19 290.48 L411.21 290.56 L410.23 290.63 L409.25 290.71 L408.27 290.79 L407.29 290.86 L406.32 290.94 L405.34 291.02 L404.36 291.10 L403.38 291.19 L402.40 291.27 L401.43 291.35 L400.45 291.44 L399.47 291.53 L398.49 291.62 L397.51 291.71 L396.54 291.80 L395.56 291.89 L394.58 291.98 L393.60 292.08 L392.62 292.17 L391.65 292.27 L390.67 292.37 L389.69 292.47 L388.71 292.57 L387.74 292.67 L386.76 292.77 L385.78 292.88 L384.80 292.98 L383.82 293.09 L382.85 293.20 L381.87 293.31 L380.89 293.43 L379.91 293.54 L378.94 293.65 L377.96 293.77 L376.98 293.89 L376.01 294.01 L375.03 294.13 L374.05 294.26 L373.07 294.38 L372.10 294.51 L371.12 294.64 L370.14 294.77 L369.16 294.90 L368.19 295.03 L367.21 295.17 L366.23 295.31 L365.26 295.45 L364.28 295.59 L363.30 295.73 L362.33 295.88 L361.35 296.03 L360.37 296.17 L359.40 296.33 L358.42 296.48 L357.44 296.63 L356.47 296.79 L355.49 296.95 L354.51 297.11 L353.54 297.28 L352.56 297.44 L351.58 297.61 L350.61 297.78 L349.63 297.96 L348.65 298.13 L347.68 298.31 L346.70 298.49 L345.73 298.67 L344.75 298.86 L343.77 299.05 L342.80 299.24 L341.82 299.43 L340.85 299.63 L339.87 299.82 L338.90 300.02 L337.92 300.23 L336.94 300.43 L335.97 300.64 L334.99 300.85 L334.02 301.07 L333.04 301.29 L332.07 301.51 L331.09 301.73 L330.12 301.96 L329.14 302.19 L328.17 302.42 L327.19 302.66 L326.22 302.90 L325.24 303.14 L324.27 303.38 L323.29 303.63 L322.32 303.88 L321.34 304.14 L320.37 304.40 L319.39 304.66 L318.42 304.93 L317.44 305.20 L316.47 305.47 L315.50 305.75 L314.52 306.03 L313.55 306.31 L312.57 306.60 L311.60 306.90 L310.63 307.19 L309.65 307.49 L308.68 307.80 L307.70 308.10 L306.73 308.42 L305.76 308.73 L304.78 309.05 L303.81 309.38 L302.84 309.71 L301.86 310.04 L300.89 310.38 L299.92 310.73 L298.94 311.07 L297.97 311.43 L297.00 311.78 L296.02 312.15 L295.05 312.51 L294.08 312.88 L293.11 313.26 L292.13 313.64 L291.16 314.03 L290.19 314.42 L289.22 314.82 L288.24 315.22 L287.27 315.63 L286.30 316.04 L285.33 316.46 L284.35 316.89 L283.38 317.32 L282.41 317.75 L281.44 318.19 L280.46 318.64 L279.49 319.10 L278.52 319.56 L277.55 320.02 L276.58 320.49 L275.61 320.97 L274.63 321.46 L273.66 321.95 L272.69 322.44 L271.72 322.95 L270.75 323.46 L269.78 323.98 L268.80 324.50 L267.83 325.03 L266.86 325.57 L265.89 326.12 L264.92 326.67 L263.95 327.23 L262.98 327.80 L262.00 328.37 L261.03 328.96 L260.06 329.55 L259.09 330.14 L258.12 330.75 L257.15 331.36 L256.18 331.99 L255.20 332.62 L254.23 333.25 L253.26 333.90 L252.29 334.56 L251.32 335.22 L250.35 335.89 L249.38 336.57 L248.41 337.26 L247.43 337.96 L246.46 338.67 L245.49 339.39 L244.52 340.11 L243.55 340.85 L242.58 341.60 L241.60 342.35 L240.63 343.12 L239.66 343.89 L238.69 344.68 L237.72 345.47 L236.75 346.28 L235.77 347.09 L234.80 347.92 L233.83 348.75 L232.86 349.60 L231.89 350.46 L230.91 351.33 L229.94 352.21 L228.97 353.10 L228.00 354.00 L227.02 354.91 L226.05 355.84 L225.08 356.77 L224.11 357.72 L223.13 358.68 L222.16 359.65 L221.19 360.64 L220.22 361.63 L219.24 362.64 L218.27 363.66 L217.30 364.69 L216.32 365.74 L215.35 366.80 L214.37 367.87 L213.40 368.95 L212.43 370.04 L211.45 371.15 L210.48 372.28 L209.50 373.41 L208.53 374.56 L207.55 375.72 L206.58 376.90 L205.60 378.09 L204.63 379.29 L203.65 380.51 L202.67 381.74 L201.70 382.98 L200.72 384.24 L199.75 385.51 L198.77 386.80 L197.79 388.10 L196.82 389.41 L195.84 390.74 L194.86 392.08 L193.89 393.44 L192.91 394.81 L191.93 396.19 L190.95 397.59 L189.98 399.01 L189.00 400.43 L188.02 401.88 L187.04 403.33 L186.07 404.80 L185.09 406.28 L184.11 407.78 L183.13 409.29 L182.15 410.82 L181.18 412.35 L180.20 413.90 L179.22 415.47 L178.24 417.04 L177.26 418.63 L176.28 420.24 L175.30 421.85 L174.33 423.48 L173.35 425.11 L172.37 426.76 L171.39 428.42 L170.41 430.10 L169.43 431.78 L168.45 433.47 L167.47 435.17 L166.49 436.88 L165.51 438.59 L164.53 440.32 L163.56 442.05 L162.58 443.79 L161.60 445.53 L160.62 447.28 L159.64 449.03 L158.66 450.79 L157.68 452.54 L156.70 454.30 L155.72 456.06 L154.74 457.82 L153.76 459.57 L152.78 461.32 L151.80 463.07 L150.82 464.81 L149.84 466.54 L148.86 468.26 L147.88 469.97 L146.90 471.67 L145.92 473.35 L144.93 475.02 L143.95 476.66 L142.97 478.28 L141.99 479.88 L141.01 481.45 L140.02 482.99 L139.04 484.50 L138.05 485.97 L137.06 487.40 L136.07 488.79 L135.08 490.13 L134.09 491.41 L133.09 492.64 L132.08 493.81 L131.06 494.91 L130.04 495.94 L129.00 496.89 L127.95 497.75 L126.87 498.51 L125.77 499.16 L124.65 499.69 L123.48 500.07 L122.30 500.27 L121.21 500.31Z" fill="#00f" stroke="none"/>
</g>
<path class="curve" d="M627.1 103.55 H684.7" stroke="#f00"/>
<path class="curve" d="M627.1 133.8 H684.7" stroke="#00f"/>
<rect class="frame" x="121.10" y="79.20" width="587.85" height="419.60"/>
<g fill="#f00">
<text transform="translate(97.68 506.00) scale(1 1.090)" font-size="20">0</text>
<text transform="translate(97.68 441.00) scale(1 1.090)" font-size="20">2</text>
<text transform="translate(97.68 377.00) scale(1 1.090)" font-size="20">4</text>
<text transform="translate(97.68 312.00) scale(1 1.090)" font-size="20">6</text>
<text transform="translate(97.68 248.00) scale(1 1.090)" font-size="20">8</text>
<text transform="translate(86.55 183.00) scale(1 1.090)" font-size="20" clip-path="url(#one20)">1</text><text transform="translate(97.68 183.00) scale(1 1.090)" font-size="20">0</text>
<text transform="translate(86.55 118.00) scale(1 1.090)" font-size="20" clip-path="url(#one20)">1</text><text transform="translate(97.68 118.00) scale(1 1.090)" font-size="20">2</text>
<text transform="translate(118.24 526.00) scale(1 1.090)" font-size="20">0</text>
<text transform="translate(265.20 526.00) scale(1 1.090)" font-size="20">5</text>
<text transform="translate(406.60 526.00) scale(1 1.090)" font-size="20" clip-path="url(#one20)">1</text><text transform="translate(417.72 526.00) scale(1 1.090)" font-size="20">0</text>
<text transform="translate(553.56 526.00) scale(1 1.090)" font-size="20" clip-path="url(#one20)">1</text><text transform="translate(564.69 526.00) scale(1 1.090)" font-size="20">5</text>
<text transform="translate(700.53 526.00) scale(1 1.090)" font-size="20">20</text>
</g><g fill="#00f">
<text transform="translate(726.60 506.00) scale(1 1.090)" font-size="20">0</text>
<text transform="translate(726.60 441.00) scale(1 1.090)" font-size="20">2</text>
<text transform="translate(726.60 377.00) scale(1 1.090)" font-size="20">4</text>
<text transform="translate(726.60 312.00) scale(1 1.090)" font-size="20">6</text>
<text transform="translate(726.60 248.00) scale(1 1.090)" font-size="20">8</text>
<text transform="translate(726.60 183.00) scale(1 1.090)" font-size="20" clip-path="url(#one20)">1</text><text transform="translate(737.72 183.00) scale(1 1.090)" font-size="20">0</text>
<text transform="translate(726.60 118.00) scale(1 1.090)" font-size="20" clip-path="url(#one20)">1</text><text transform="translate(737.72 118.00) scale(1 1.090)" font-size="20">2</text>
<text transform="translate(115.54 66.00) scale(1 1.090)" font-size="20">0</text>
<text transform="translate(148.93 66.00) scale(1 1.090)" font-size="20">0.200</text>
<text transform="translate(260.58 66.00) scale(1 1.090)" font-size="20">0.440</text>
<text transform="translate(337.03 66.00) scale(1 1.090)" font-size="20">0.474</text>
<text transform="translate(460.38 66.00) scale(1 1.090)" font-size="20">0.495</text>
<text transform="translate(584.18 66.00) scale(1 1.090)" font-size="20">0.499</text>
<text transform="translate(695.05 66.00) scale(1 1.090)" font-size="20">0.5</text>
</g>
<text transform="translate(577.23 109.90) scale(1 1.090)" font-size="20">V</text><text transform="translate(590.11 109.90) scale(1 1.030)" font-size="20">(</text><text transform="translate(609.03 109.90) scale(1 1.030)" font-size="20">)</text>
<g role="img" aria-label="χ" transform="translate(597.30 99.60) scale(0.7152 0.7056)"><title>χ</title><use href="#chi"/></g>
<text transform="translate(523.19 140.40) scale(1 1.030)" font-size="20">[</text><text transform="translate(529.08 140.40) scale(1 1.090)" font-size="20">V</text><text transform="translate(542.30 146.20) scale(1 1.020)" font-size="16">k</text><text transform="translate(556.84 141.20) scale(1 1.020)" font-size="20">–</text><text transform="translate(573.01 140.40) scale(1 1.020)" font-size="20">k</text><text transform="translate(583.97 140.40) scale(1 1.030)" font-size="20">/</text><text transform="translate(589.01 140.40) scale(1 1.020)" font-size="20">a</text><text transform="translate(600.63 130.60) scale(1 1.090)" font-size="16">2</text><text transform="translate(609.86 140.40) scale(1 1.030)" font-size="20">]</text>
<text transform="translate(368.20 26.90) scale(1 1.020)" font-size="28.33" class="rho">ρ</text><text transform="translate(384.52 35.80) scale(1 1.020)" font-size="22.66">e</text><text transform="translate(396.68 35.80) scale(1 1.020)" font-size="22.66">f</text><text transform="translate(403.43 35.80) scale(1 1.020)" font-size="22.66">f</text><text transform="translate(417.96 26.90) scale(1 1.030)" font-size="28.33">/</text><text transform="translate(433.70 26.90) scale(1 1.020)" font-size="28.33" class="rho">ρ</text><text transform="translate(450.05 35.80) scale(1 1.020)" font-size="22.66">c</text>
<g role="img" aria-label="χ" transform="translate(371.00 541.65) scale(1.0000 1.0000)"><title>χ</title><use href="#chi"/></g>
<text transform="translate(394.54 556.30) scale(1 1.030)" font-size="28.33">(</text><text transform="translate(404.70 556.30) scale(1 1.070)" font-size="28.33">M</text><text transform="translate(428.81 564.90) scale(1 1.070)" font-size="22.66">P</text><text transform="translate(444.23 564.90) scale(1 1.020)" font-size="22.66">l</text><text transform="translate(449.53 556.30) scale(1 1.030)" font-size="28.33">)</text>
<g transform="translate(62.00 393.60) rotate(-90)">
<text transform="translate(0.62 0.00) scale(1 1.070)" font-size="28.33" clip-path="url(#one28)">1</text><text transform="translate(16.87 0.00) scale(1 1.070)" font-size="28.33">0</text><text transform="translate(33.10 -14.30) scale(1 1.070)" font-size="22.66" clip-path="url(#one22)">1</text><text transform="translate(45.50 -14.30) scale(1 1.070)" font-size="22.66" clip-path="url(#one22)">1</text><text transform="translate(66.31 0.00) scale(1 1.020)" font-size="28.33">x</text><text transform="translate(88.70 0.00) scale(1 1.070)" font-size="28.33">V</text><text transform="translate(107.84 0.00) scale(1 1.030)" font-size="28.33">(</text><text transform="translate(133.73 0.00) scale(1 1.030)" font-size="28.33">)</text><text transform="translate(142.91 0.00) scale(1 1.030)" font-size="28.33">/</text><text transform="translate(151.10 0.00) scale(1 1.070)" font-size="28.33">M</text><text transform="translate(175.36 8.60) scale(1 1.070)" font-size="22.66">P</text><text transform="translate(190.58 8.60) scale(1 1.020)" font-size="22.66">l</text><text transform="translate(195.70 -14.30) scale(1 1.070)" font-size="22.66">2</text>
<g role="img" aria-label="χ" transform="translate(117.70 -14.80) scale(0.9934 1.0170)"><title>χ</title><use href="#chi"/></g>
</g>
<g transform="translate(803.6 432.0) rotate(-90)">
<text transform="translate(0.62 0.00) scale(1 1.070)" font-size="28.33" clip-path="url(#one28)">1</text><text transform="translate(16.87 0.00) scale(1 1.070)" font-size="28.33">0</text><text transform="translate(33.10 -14.30) scale(1 1.070)" font-size="22.66" clip-path="url(#one22)">1</text><text transform="translate(45.50 -14.30) scale(1 1.070)" font-size="22.66" clip-path="url(#one22)">1</text><text transform="translate(66.31 0.00) scale(1 1.020)" font-size="28.33">x</text><text transform="translate(88.62 0.00) scale(1 1.030)" font-size="28.33">[</text><text transform="translate(97.05 0.00) scale(1 1.070)" font-size="28.33">V</text><text transform="translate(115.75 8.60) scale(1 1.020)" font-size="22.66">k</text><text transform="translate(135.78 0.00) scale(1 1.020)" font-size="28.33">–</text><text transform="translate(160.24 0.00) scale(1 1.020)" font-size="28.33">k</text><text transform="translate(175.16 0.00) scale(1 1.030)" font-size="28.33">/</text><text transform="translate(182.72 0.00) scale(1 1.020)" font-size="28.33">a</text><text transform="translate(199.15 -14.30) scale(1 1.070)" font-size="22.66">2</text><text transform="translate(212.06 0.00) scale(1 1.030)" font-size="28.33">]</text><text transform="translate(220.06 0.00) scale(1 1.030)" font-size="28.33">/</text><text transform="translate(228.10 0.00) scale(1 1.070)" font-size="28.33">M</text><text transform="translate(252.11 8.60) scale(1 1.070)" font-size="22.66">P</text><text transform="translate(267.03 8.60) scale(1 1.020)" font-size="22.66">l</text><text transform="translate(272.45 -14.30) scale(1 1.070)" font-size="22.66">2</text>
</g>
</svg>
</body></html>
